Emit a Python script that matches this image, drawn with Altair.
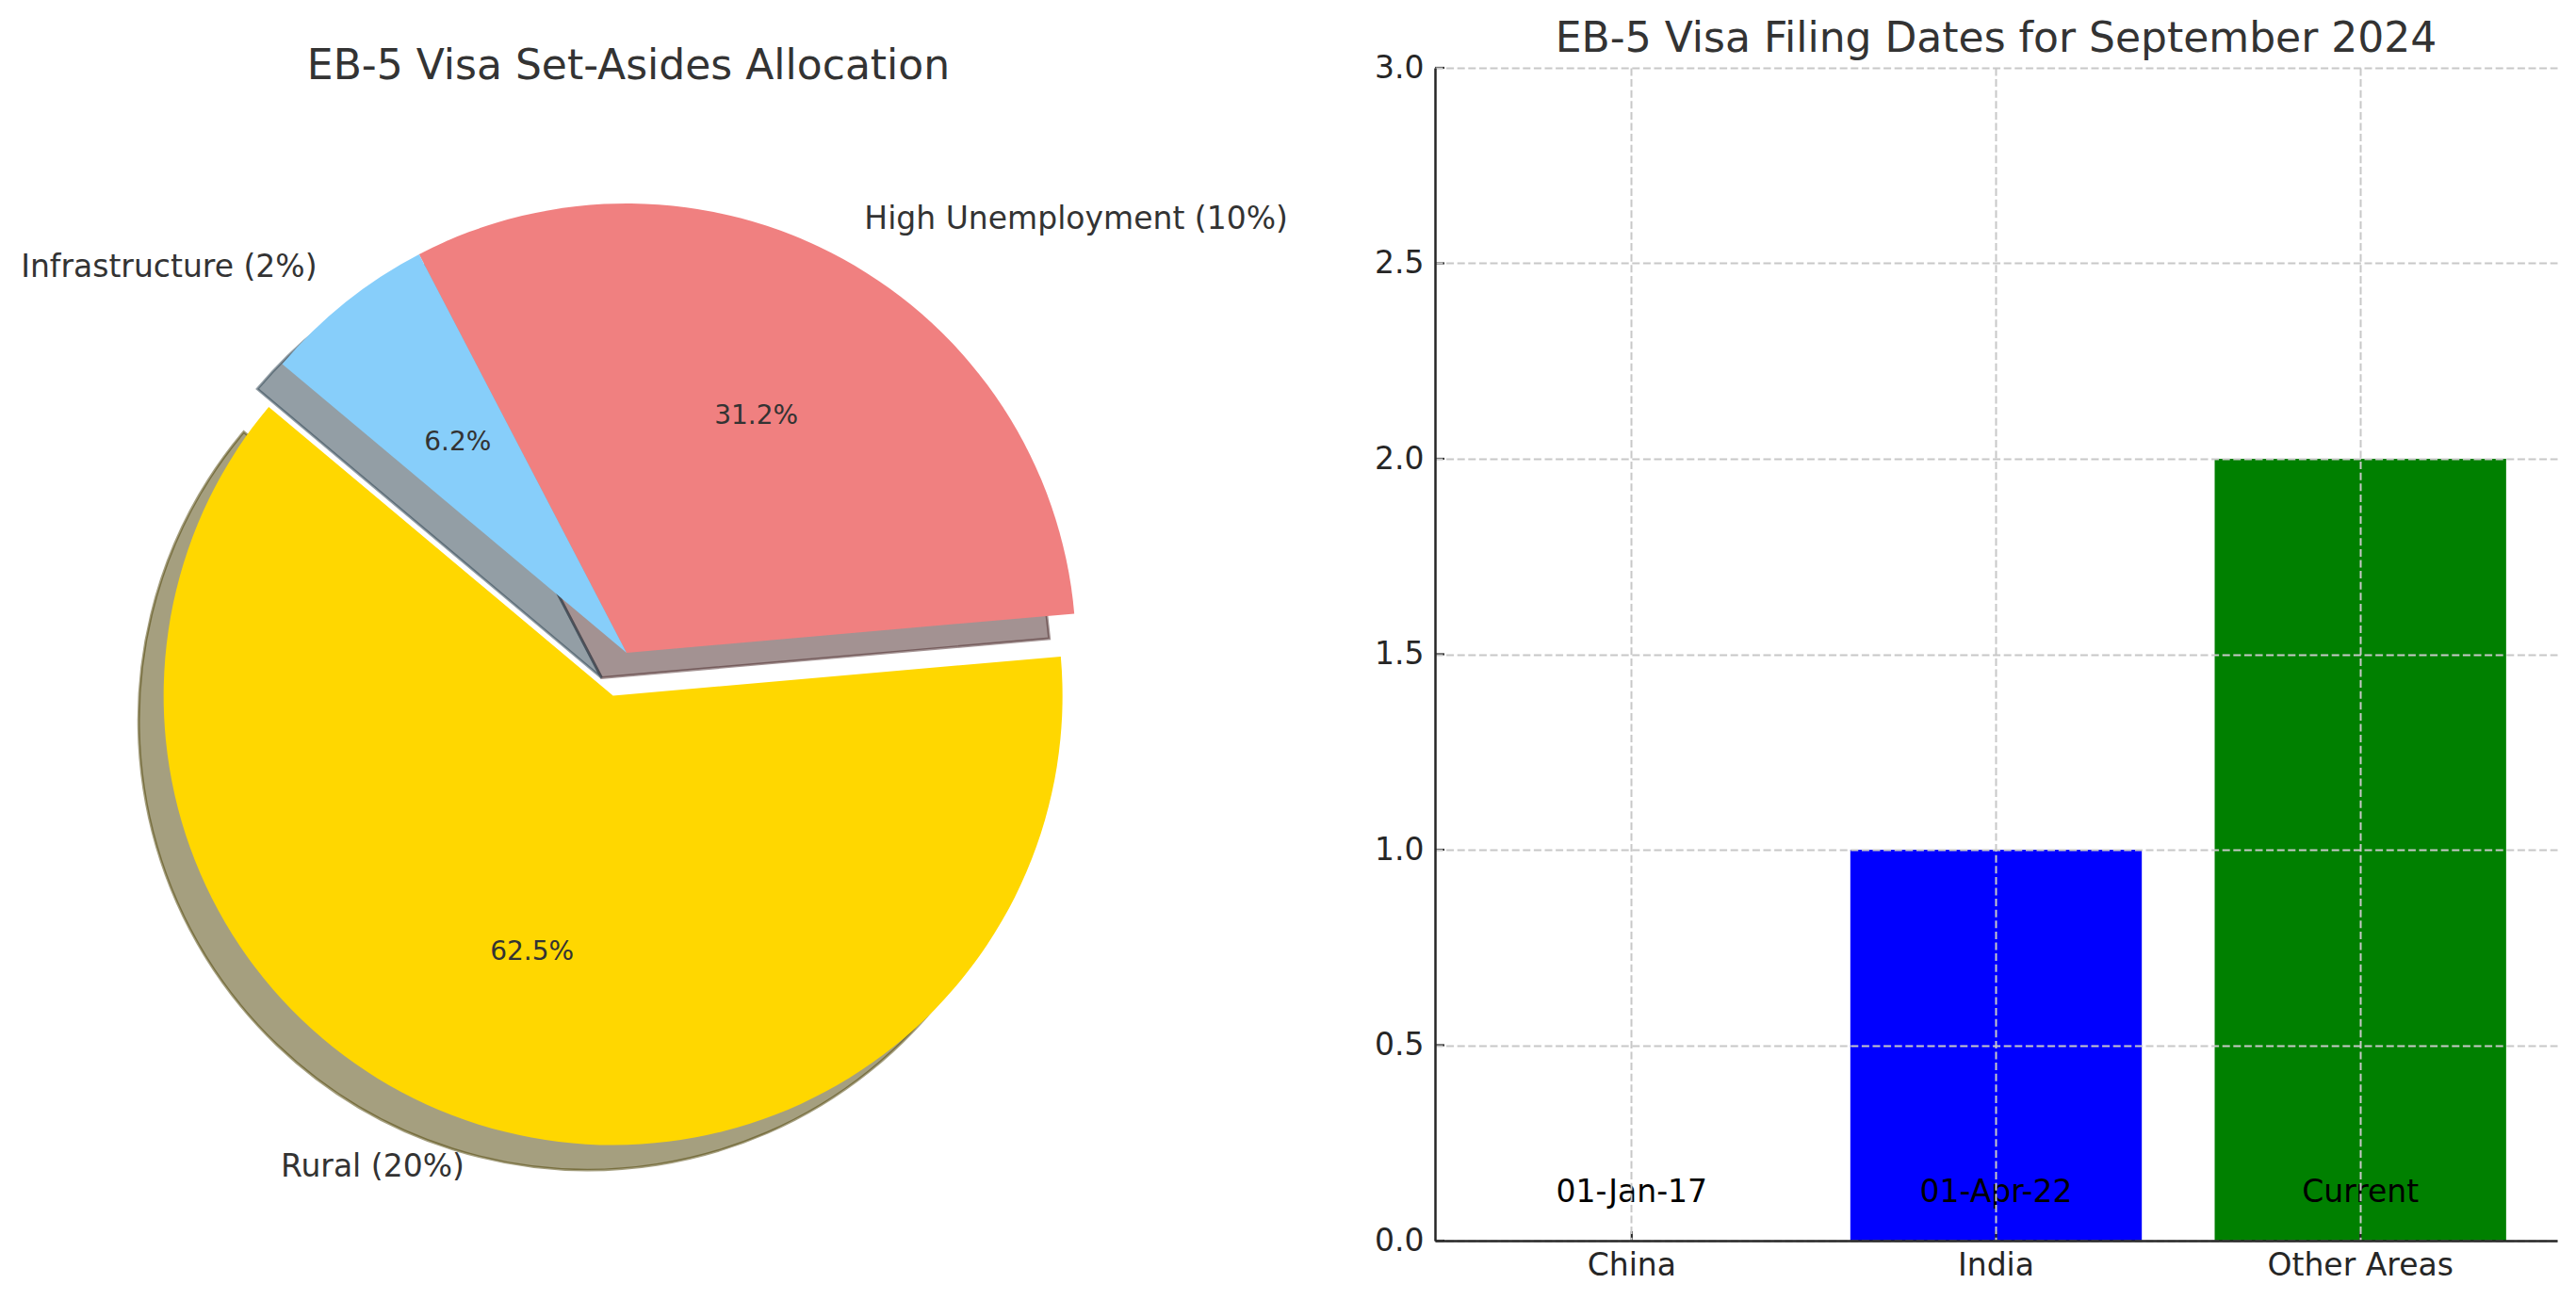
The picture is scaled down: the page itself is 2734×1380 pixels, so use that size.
import altair as alt
import pandas as pd

# ---------------- data ----------------
pie_categories = ["Rural", "High Unemployment", "Infrastructure"]
pie_values = [20, 10, 2]
pie_labels = ["Rural (20%)", "High Unemployment (10%)", "Infrastructure (2%)"]
pie_pct_labels = ["62.5%", "31.2%", "6.2%"]
pie_explode = [0.1, 0.0, 0.0]
pie_colors = ["#FFD700", "#F08080", "#87CEFA"]
pie_start_angle = 140

bar_categories = ["China", "India", "Other Areas"]
bar_values = [0, 1, 2]
bar_annotations = ["01-Jan-17", "01-Apr-22", "Current"]
bar_colors = ["red", "blue", "green"]
y_ticks = [0.0, 0.5, 1.0, 1.5, 2.0, 2.5, 3.0]

# ---------------- style / layout ----------------
FONT = "DejaVu Sans"
TITLE_SIZE = 44
LABEL_SIZE = 33
PCT_SIZE = 28
TEXT_COLOR = "#333333"
TICK_COLOR = "#262626"

PIE_W, PIE_H = 1400, 1245
PIE_R = 477                      # radius in px (= 1 data unit)
PIE_CX, PIE_CY = 656, 621        # centre of the pie inside its panel (px)
SHADOW = 0.02 * 200 / 72         # matplotlib shadow offset (data units)

BAR_W, BAR_H = 1191, 1245


def darken(hexcol, f=0.3):
    h = hexcol.lstrip("#")
    r, g, b = (int(h[i:i + 2], 16) for i in (0, 2, 4))
    return "#%02x%02x%02x" % (int(r * f), int(g * f), int(b * f))


pie_df = pd.DataFrame({
    "order": list(range(len(pie_categories))),
    "category": pie_categories,
    "value": pie_values,
    "label": pie_labels,
    "pct": pie_pct_labels,
    "explode": pie_explode,
    "color": pie_colors,
    "shadow": [darken(c) for c in pie_colors],
})

bar_df = pd.DataFrame({
    "country": bar_categories,
    "value": bar_values,
    "annotation": bar_annotations,
    "color": bar_colors,
})
tick_df = pd.DataFrame({"tick": y_ticks})

# ---------------- pie ----------------
x_scale = alt.Scale(domain=[-PIE_CX / PIE_R, (PIE_W - PIE_CX) / PIE_R], nice=False, zero=False)
y_scale = alt.Scale(domain=[-(PIE_H - PIE_CY) / PIE_R, PIE_CY / PIE_R], nice=False, zero=False)

pie_base = (
    alt.Chart(pie_df)
    .transform_joinaggregate(total="sum(value)")
    .transform_window(cum="sum(value)", sort=[alt.SortField("order")], frame=[None, 0])
    .transform_calculate(
        a0=f"PI/180*({pie_start_angle} + 360*(datum.cum - datum.value)/datum.total)",
        a1=f"PI/180*({pie_start_angle} + 360*datum.cum/datum.total)",
    )
    .transform_calculate(
        am="(datum.a0 + datum.a1)/2",
        t0="PI/2 - datum.a1",
        t1="PI/2 - datum.a0",
    )
    .transform_calculate(
        cx="datum.explode*cos(datum.am)",
        cy="datum.explode*sin(datum.am)",
    )
    .transform_calculate(
        sx=f"datum.cx - {SHADOW}",
        sy=f"datum.cy - {SHADOW}",
        lx="datum.cx + 1.1*cos(datum.am)",
        ly="datum.cy + 1.1*sin(datum.am)",
        px="datum.cx + 0.6*cos(datum.am)",
        py="datum.cy + 0.6*sin(datum.am)",
    )
)

shadows = pie_base.mark_arc(
    radius=PIE_R, fillOpacity=0.5, strokeOpacity=0.5, strokeWidth=2.8
).encode(
    x=alt.X("sx:Q", scale=x_scale, axis=None),
    y=alt.Y("sy:Q", scale=y_scale, axis=None),
    theta=alt.Theta("t0:Q", scale=None),
    theta2=alt.Theta2("t1:Q"),
    color=alt.Color("shadow:N", scale=None),
    stroke=alt.Stroke("shadow:N", scale=None),
)

wedges = pie_base.mark_arc(radius=PIE_R, strokeWidth=0).encode(
    x=alt.X("cx:Q", scale=x_scale, axis=None),
    y=alt.Y("cy:Q", scale=y_scale, axis=None),
    theta=alt.Theta("t0:Q", scale=None),
    theta2=alt.Theta2("t1:Q"),
    color=alt.Color("color:N", scale=None),
)

labels_right = pie_base.transform_filter("datum.lx > 0").mark_text(
    align="left", baseline="middle", fontSize=LABEL_SIZE, font=FONT, color=TEXT_COLOR
).encode(
    x=alt.X("lx:Q", scale=x_scale, axis=None),
    y=alt.Y("ly:Q", scale=y_scale, axis=None),
    text="label:N",
)
labels_left = pie_base.transform_filter("datum.lx <= 0").mark_text(
    align="right", baseline="middle", fontSize=LABEL_SIZE, font=FONT, color=TEXT_COLOR
).encode(
    x=alt.X("lx:Q", scale=x_scale, axis=None),
    y=alt.Y("ly:Q", scale=y_scale, axis=None),
    text="label:N",
)
pct_text = pie_base.mark_text(
    align="center", baseline="middle", fontSize=PCT_SIZE, font=FONT, color=TEXT_COLOR
).encode(
    x=alt.X("px:Q", scale=x_scale, axis=None),
    y=alt.Y("py:Q", scale=y_scale, axis=None),
    text="pct:N",
)

pie = alt.layer(shadows, wedges, labels_right, labels_left, pct_text).properties(
    width=PIE_W,
    height=PIE_H,
    title=alt.Title(
        "EB-5 Visa Set-Asides Allocation",
        fontSize=TITLE_SIZE, font=FONT, fontWeight="normal", color=TEXT_COLOR,
        anchor="middle", frame="group", offset=-21, dx=-42,
    ),
)

# ---------------- bar ----------------
grid_kw = dict(grid=True, gridDash=[8, 3.6], gridColor="#c8c8c8", gridWidth=2)
x_bar = alt.X(
    "country:N",
    sort=bar_categories,
    scale=alt.Scale(paddingInner=0.2, paddingOuter=0.14),
    axis=alt.Axis(
        title=None, labelAngle=0, labelFontSize=LABEL_SIZE, labelFont=FONT,
        labelColor=TICK_COLOR, labelPadding=10, labelLimit=500, ticks=False,
        domainColor=TICK_COLOR, domainWidth=2.5, bandPosition=0.5, zindex=1,
        **grid_kw,
    ),
)
y_bar = alt.Y(
    "value:Q",
    scale=alt.Scale(domain=[0, 3], nice=False),
    axis=alt.Axis(
        title=None, values=y_ticks, format=".1f", labelFontSize=LABEL_SIZE,
        labelFont=FONT, labelColor=TICK_COLOR, labelPadding=12, ticks=False,
        domainColor=TICK_COLOR, domainWidth=2.5, zindex=1,
        **grid_kw,
    ),
)

bars = alt.Chart(bar_df).mark_bar().encode(
    x=x_bar, y=y_bar, color=alt.Color("color:N", scale=None)
)
annot = alt.Chart(bar_df).mark_text(
    baseline="alphabetic", align="center", fontSize=LABEL_SIZE, font=FONT, color="black"
).encode(
    x=alt.X("country:N", sort=bar_categories),
    y=alt.datum(0.1),
    text="annotation:N",
)
ytick_marks = alt.Chart(tick_df).mark_rule(color=TICK_COLOR, strokeWidth=2.2).encode(
    y=alt.Y("tick:Q"), x=alt.value(0), x2=alt.value(10)
)
xtick_marks = alt.Chart(bar_df).mark_rule(color=TICK_COLOR, strokeWidth=2.2).encode(
    x=alt.X("country:N", sort=bar_categories), y=alt.value(BAR_H), y2=alt.value(BAR_H - 10)
)

bar = alt.layer(bars, annot, ytick_marks, xtick_marks).properties(
    width=BAR_W,
    height=BAR_H,
    title=alt.Title(
        "EB-5 Visa Filing Dates for September 2024",
        fontSize=TITLE_SIZE, font=FONT, fontWeight="normal", color=TEXT_COLOR,
        anchor="middle", frame="group", offset=-8,
    ),
)

chart = (
    alt.hconcat(pie, bar, spacing=114, bounds="flush")
    .properties(padding={"left": 0, "top": 11, "right": 0, "bottom": 0})
    .configure(font=FONT)
    .configure_view(stroke="transparent")
)

chart.save("out.html", embed_options={"renderer": "svg", "actions": False})
